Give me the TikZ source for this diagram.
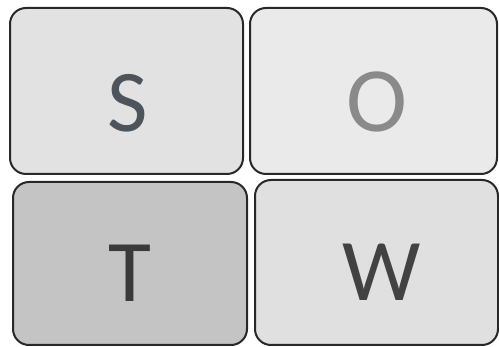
\documentclass[tikz,border=0pt]{standalone}
\usepackage{fontspec}
\setmainfont{Carlito}
\usetikzlibrary{positioning}
\definecolor{ink}{RGB}{40,40,40}
\definecolor{paperS}{RGB}{226,226,226}
\definecolor{paperO}{RGB}{234,234,234}
\definecolor{paperT}{RGB}{196,196,196}
\definecolor{paperW}{RGB}{224,224,224}
\definecolor{letterS}{RGB}{78,84,92}
\definecolor{letterO}{RGB}{138,138,138}
\definecolor{letterT}{RGB}{58,58,58}
\definecolor{letterW}{RGB}{66,66,66}

\begin{document}
\begin{tikzpicture}[x=1pt, y=-1pt,
    quad/.style={draw=ink, line width=2pt, rounded corners=16pt, minimum height=166pt},
    glyph/.style={font=\fontsize{88}{88}\selectfont, inner sep=0pt}
  ]
  \useasboundingbox (0,0) rectangle (499,347);

  \node[quad, fill=paperS, minimum width=233pt] (s) at (126.5,91) {};
  \node[quad, fill=paperO, minimum width=247pt] (o) at (373.5,91) {};
  \node[quad, fill=paperT, minimum width=234pt, minimum height=163pt] (t) at (130,263.5) {};
  \node[quad, fill=paperW, minimum width=243pt, minimum height=165pt] (w) at (376.5,262.5) {};

  \node[glyph, text=letterS] (ls) at ([xshift=1.5pt, yshift=-12pt]s.center) {S};
  \node[glyph, text=letterO, font=\fontsize{92}{92}\selectfont] (lo) at ([xshift=3pt, yshift=-11pt]o.center) {O};
  \node[glyph, text=letterT] (lt) at ([yshift=-10pt]t.center) {T};
  \node[glyph, text=letterW] (lw) at ([xshift=5pt, yshift=-10pt]w.center) {W};
\end{tikzpicture}
\end{document}
